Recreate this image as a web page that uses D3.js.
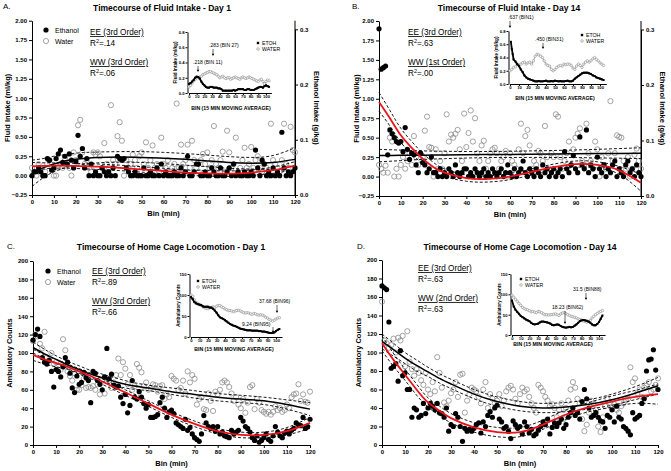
<!DOCTYPE html>
<html>
<head>
<meta charset="utf-8">
<script src="https://cdn.jsdelivr.net/npm/d3@7"></script>
<style>
  body { margin: 0; background: #fff; }
  svg { font-family: "Liberation Sans", Arial, sans-serif; }
</style>
</head>
<body>
<script>
// ---- data ----
const bins = d3.range(0, 121);
const fitBins = [0, 5, 10, 15, 20, 25, 30, 40, 50, 60, 70, 80, 90, 100, 110, 120];
const insetBins = d3.range(0, 105, 2);
const insetBinsBEtoh = [1, 2, 3].concat(d3.range(4, 105, 2));

// A - fluid intake day 1 (ml/kg)
const aEthanol = [0,.05,.05,.1,.05,0,0,.22,.2,.07, .1,.22,.28,.33,.17,.25,.15,.28,.2,.1,
  .18,.52,.25,.35,.1,.22,0,.15,0,.05, 0,0,.1,.05,0,.05,0,.1,0,.25, .22,.2,.22,.1,.05,0,0,.05,0,0,
  0,.1,0,0,.05,0,0,.1,0,.15, 0,.05,0,0,0,.05,0,0,.1,0, .05,.25,0,0,.05,.15,.15,0,0,.05,
  0,0,.1,.05,0,0,.1,0,0,.05, .1,0,.15,0,.05,0,0,.05,0,0, .05,0,.33,.1,0,.2,.15,0,.05,0,
  .1,0,.05,0,.56,.1,0,.05,0,.05, .1];
const aWater = [.1,.05,0,.15,.1,0,.05,.15,.2,.1, 0,0,.1,.15,.1,.22,.15,.1,0,.3,
  .2,.65,.72,.3,.15,.2,.1,.05,.3,.27, .3,.25,.1,.42,.15,.1,.91,.2,.15,.51, .69,.45,0,.2,.1,.15,.27,.2,.1,.25,
  .3,.15,.43,.1,.2,.39,.1,.15,.05,.49, .15,.1,.2,.05,.1,.15,.93,.1,.4,.15, .2,.4,.1,.45,.2,.1,.05,.2,.28,.15,
  .3,.1,.2,.64,.15,.1,.2,.31,.05,.58, .3,.1,.15,.49,.05,.1,.2,.36,.1,.15, .37,.1,.2,.25,.1,.05,.15,.1,0,.67,
  .2,.15,.1,.05,.2,.67,.15,.1,.63,.33, .3];
const aEthFit = [.12,.125,.13,.13,.125,.12,.115,.1,.08,.06,.04,.03,.025,.04,.07,.13];
const aEthHi  = [.17,.165,.165,.163,.158,.153,.15,.135,.115,.095,.075,.065,.06,.075,.11,.18];
const aEthLo  = [.07,.085,.095,.097,.092,.087,.08,.065,.045,.025,.005,-.005,-.01,.005,.03,.08];
const aWatFit = [.04,.1,.15,.19,.21,.225,.235,.24,.235,.225,.21,.19,.17,.16,.17,.21];
const aWatHi  = [.2,.22,.25,.27,.29,.3,.305,.31,.31,.3,.285,.265,.245,.235,.26,.36];
const aWatLo  = [-.14,-.03,.05,.1,.13,.15,.165,.175,.17,.155,.135,.115,.095,.085,.08,.06];
const aInsetEtoh = [.12,.13,.15,.17,.2,.215,.21,.19,.15,.12, .1,.08,.07,.07,.08,.08,.07,.07,.07,.06,
  .06,.05,.03,.03,.03,.03,.03,.03,.03,.04, .03,.04,.05,.05,.05,.05,.04,.04,.05,.05,
  .04,.04,.04,.05,.06,.07,.08,.08,.07,.09, .1,.09,.08];
const aInsetWater = [.08,.1,.13,.16,.18,.2,.2,.21,.22,.24, .25,.26,.27,.28,.28,.27,.26,.25,.24,.22,
  .2,.21,.22,.2,.19,.2,.2,.18,.19,.2, .21,.2,.19,.18,.2,.21,.2,.19,.2,.21,
  .2,.19,.18,.17,.16,.15,.17,.18,.15,.12, .15,.17,.16];

// B - fluid intake day 14 (ml/kg)
const bEthanol = [1.9,1.38,1.4,1.42,.28,.6,.55,.5,.45,.43, .45,.32,.63,.35,.22,.3,.28,.15,.05,.3,
  .18,.15,.05,.1,.25,.05,.05,0,.1,0, .05,0,.1,.05,0,.15,.05,0,.05,.1, .1,0,.05,0,.1,.05,0,.05,.1,0,
  .05,0,.1,.05,0,.05,.1,0,.05,.15, .05,0,.1,0,.05,.1,.2,.05,0,.1, .05,0,.1,.05,0,.15,.05,.1,0,.05,
  .1,0,.05,.1,0,.32,.1,.05,.15,.27, .1,.05,.51,.15,.1,.6,.05,.15,.1,0, .25,.1,.05,.15,0,.1,.05,.15,.2,0,
  .1,.05,0,.15,.2,.05,.1,0,.15,.05, 0];
const bWater = [.15,.1,.05,.14,.05,.5,.45,0,.1,0, .15,.25,.1,.2,.3,.15,.52,.25,.15,.3,
  .25,.59,.77,.38,.37,0,.35,.1,.2,.1, .3,.8,.45,.54,.5,.55,.6,.35,.2,.81, .38,.56,.85,.45,.75,.3,.2,.4,.46,.1,
  .2,.3,.35,.37,.3,.1,.2,.25,.33,0, .3,.2,.15,.1,.35,.68,.3,.52,.6,.4, .1,.2,.15,.33,.3,.2,.65,.25,.1,.3,
  .25,.8,.77,.25,.1,.2,.3,.45,.15,.35, .5,.55,.62,.2,.15,.68,.3,.2,.1,.45, .35,0,.25,.15,.1,.3,.97,.2,.3,.53,
  .51,.5,.2,.1,.25,0,.1,.28,.36,.2, .1];
const bEthFit = [.96,.75,.53,.37,.23,.12,.05,-.02,-.03,0,.06,.12,.16,.15,.08,-.08];
const bEthHi  = [1.08,.85,.62,.45,.3,.18,.1,.02,.01,.04,.1,.16,.2,.19,.13,.03];
const bEthLo  = [.84,.65,.44,.29,.16,.06,0,-.06,-.07,-.04,.02,.08,.12,.11,.03,-.19];
const bWatFit = [.27,.271,.273,.274,.275,.276,.278,.28,.283,.285,.288,.29,.293,.295,.298,.3];
const bWatHi  = [.35,.345,.34,.335,.33,.327,.325,.322,.322,.325,.33,.335,.342,.35,.36,.37];
const bWatLo  = [.19,.197,.205,.213,.22,.225,.23,.238,.244,.245,.246,.245,.244,.24,.236,.23];
const bInsetEtoh = [.637,.53,.45, .37,.34,.3,.27,.22,.18,.13,.1,.08,.07,.06,.05,.04,
  .04,.045,.04,.04,.045,.05,.04,.04,.045,.04,.05,.045,.04,.045,.04,.04,.045,.05,.04,.04,
  .05,.08,.1,.12,.14,.16,.17,.17,.17,.16,.15,.13,.12,.1,.09,.08,.07,.06];
const bInsetWater = [.2,.22,.25,.26,.3,.28,.3,.32,.33,.3, .32,.33,.3,.35,.42,.45,.44,.42,.4,.35,
  .3,.28,.27,.22,.2,.22,.25,.27,.28,.27, .3,.29,.3,.3,.28,.24,.22,.27,.3,.28,
  .25,.3,.33,.35,.33,.35,.38,.4,.37,.35, .32,.3,.28];

// C - locomotion day 1 (counts)
const cEthanol = [114,120,126,118,95,90,88,92,80,63, 82,80,74,85,95,90,78,62,57,75,
  66,68,79,73,70,46,80,78,70,66, 60,74,105,72,77,65,63,64,52,45, 55,35,43,70,52,50,58,52,45,40,
  44,30,30,31,33,46,52,40,30,36, 38,34,24,22,20,18,28,16,19,12, 8,6,4,12,32,24,20,18,20,15,
  20,12,14,10,9,8,16,12,14,16, 30,26,20,18,14,8,5,10,3,5, 8,12,6,4,10,20,14,10,8,13,
  15,12,16,18,24,22,21,30,18,20, 28];
const cWater = [113,120,118,110,105,123,95,92,100,88, 90,85,82,115,103,80,75,70,78,60,
  60,65,72,62,63,62,64,60,66,55, 70,56,72,70,62,68,76,94,76,90, 83,66,76,60,64,88,84,79,64,68,
  60,62,66,65,58,64,65,50,55,52, 75,72,70,60,62,70,56,80,68,76, 72,44,50,52,39,38,56,48,37,58,
  55,60,68,70,68,63,56,48,52,44, 40,50,35,46,63,65,39,50,46,38, 36,34,36,33,36,42,38,40,36,38,
  44,40,52,55,56,66,48,55,47,46, 58];
const cEthFit = [98,93,89,85,80,75,69,57,45,33,23,15,11,11,15,24];
const cEthHi  = [104,98,93,88,83,78,72,60,48,36,26,18,14,14,19,30];
const cEthLo  = [92,88,85,82,77,72,66,54,42,30,20,12,8,8,11,18];
const cWatFit = [106,99,93,87,82,77,73,66,62,58,55,52,50,48,44,39];
const cWatHi  = [112,104,97,91,86,81,77,70,65,62,59,56,54,52,49,46];
const cWatLo  = [100,94,89,83,78,73,69,62,59,55,51,48,46,44,39,32];
const cInsetEtoh = [95,90,83,80,78,77,76,73,72,72, 72,70,70,67,63,58,52,47,45,43,
  40,37,34,31,29,27,26,24,22,20, 19,18,17,16,16,16,15,15,15,15, 14,14,13,13,12,11,10,9.5,9.3,11, 14,17,19];
const cInsetWater = [100,97,88,82,80,77,75,72,70,68, 67,70,70,72,70,73,75,75,72,70,
  67,65,63,63,62,60,62,63,64,62, 60,58,57,58,57,55,54,56,55,53, 52,53,52,50,47,45,42,40,37.7,40, 43,45,46];

// D - locomotion day 14 (counts)
const dEthanol = [172,170,168,133,83,85,88,69,102,75, 78,60,60,30,40,38,30,32,45,34,
  40,45,42,38,45,35,34,30,40,15, 22,20,34,30,20,4,18,15,17,15, 18,22,24,13,25,20,32,36,30,40,
  43,28,25,18,20,15,7,26,22,18, 20,12,25,20,13,17,10,12,16,20, 25,22,28,12,19,24,20,24,28,18,
  22,30,35,40,32,35,28,47,60,50, 40,30,32,35,30,26,25,18,32,30, 38,25,42,30,28,20,18,15,11,35,
  28,30,32,45,50,80,92,93,103,81, 60];
const dWater = [155,113,110,105,108,115,100,116,113,118, 85,123,90,82,75,82,78,70,65,78,
  60,55,68,58,95,78,62,46,42,48, 56,60,68,52,76,77,35,48,55,62, 60,58,52,45,60,68,40,55,50,45,
  48,55,42,48,58,62,64,60,50,45, 55,62,58,60,52,45,40,35,65,62, 58,52,48,42,44,40,30,38,45,28,
  40,48,60,68,62,50,45,28,15,22, 35,48,45,38,20,14,30,42,50,46, 40,44,38,35,42,45,48,50,84,68,
  72,56,60,52,62,64,68,58,60,65, 72];
const dEthFit = [110,92,76,60,46,37,29,19,14,14,22,33,41,47,52,55];
const dEthHi  = [118,99,82,66,51,42,34,24,19,19,27,38,46,53,59,66];
const dEthLo  = [102,85,70,54,41,32,24,14,9,9,17,28,36,41,45,44];
const dWatFit = [112,103,94,86,79,72,66,55,47,42,40,41,44,49,56,64];
const dWatHi  = [120,110,100,92,84,77,71,60,52,47,45,46,49,55,63,73];
const dWatLo  = [104,96,88,80,74,67,61,50,42,37,35,36,39,43,49,55];
const dInsetEtoh = [85,70,62,57,52,47,44,41,38,36, 34,30,27,26,27,28,31,33,33,32,
  31,30,28,25,24,25,26,25,22,20, 19,18.2,19,20,19,20,23,26,30,34, 36,37,36,35,33,30,26,24,24,27, 32,40,48];
const dInsetWater = [98,93,88,83,78,73,68,65,63,62, 60,57,58,56,55,58,57,55,52,50,
  50,49,50,50,51,52,50,48,52,54, 55,53,50,48,46,45,43,42,40,38, 37,35,33,31.5,33,36,42,46,50,53, 56,58,60];

// ---- drawing ----
const FONT = '"Liberation Sans", Arial, sans-serif';
const svg = d3.select("body").append("svg").attr("width", 671).attr("height", 471);

function styleAxis(sel, fs) {
  sel.attr("font-family", FONT);
  sel.selectAll("text").attr("font-size", fs).attr("font-weight", "bold").attr("fill", "#000");
  sel.selectAll("path,line").attr("stroke", "#000");
}

function pairs(xs, ys) { return ys.map((v, i) => [xs[i], v]); }

function txt(g, x, y, s, size, opts = {}) {
  const t = g.append("text").attr("x", x).attr("y", y).attr("font-size", size)
    .attr("font-weight", opts.bold ? "bold" : "normal")
    .attr("text-anchor", opts.anchor || "start").attr("fill", opts.fill || "#000").text(s);
  if (opts.rotate) t.attr("transform", `rotate(${opts.rotate},${x},${y})`);
  if (opts.underline) t.style("text-decoration", "underline");
  return t;
}

function rsq(g, x, y, val) {
  const t = g.append("text").attr("x", x).attr("y", y).attr("font-size", 8.2);
  t.append("tspan").text("R");
  t.append("tspan").attr("font-size", 5.5).attr("dy", -3.2).text("2");
  t.append("tspan").attr("dy", 3.2).text("=" + val);
}

function drawPanel(p) {
  const g = svg.append("g");
  const x = d3.scaleLinear().domain([0, 120]).range(p.xr);
  const y = d3.scaleLinear().domain(p.yDom).range(p.yr);

  g.append("g").attr("transform", `translate(0,${p.yr[0]})`)
    .call(d3.axisBottom(x).tickValues(d3.range(0, 121, 10)).tickSize(3).tickSizeOuter(0).tickPadding(2))
    .call(styleAxis, 6);
  g.append("g").attr("transform", `translate(${p.xr[0]},0)`)
    .call(d3.axisLeft(y).tickValues(p.yTicks).tickFormat(d3.format(p.yFmt)).tickSize(3).tickSizeOuter(0).tickPadding(2))
    .call(styleAxis, 6);

  if (p.r03 !== undefined) {
    const y2 = d3.scaleLinear().domain([0, 0.3]).range([p.yr[0], p.r03]);
    g.append("line").attr("x1", p.xr[1]).attr("x2", p.xr[1]).attr("y1", p.yr[0]).attr("y2", p.yr[1]).attr("stroke", "#000");
    g.append("g").attr("transform", `translate(${p.xr[1]},0)`)
      .call(d3.axisRight(y2).tickValues([0, .1, .2, .3]).tickFormat(d3.format(".1f")).tickSize(3).tickSizeOuter(0).tickPadding(2))
      .call(styleAxis, 6);
    txt(g, p.rLabX, (p.yr[0] + p.yr[1]) / 2, "Ethanol Intake (g/kg)", 7.5, { bold: true, anchor: "middle", rotate: 90 });
  }

  // points
  g.append("g").selectAll("circle").data(pairs(bins, p.wat)).join("circle")
    .attr("cx", d => x(d[0])).attr("cy", d => y(d[1])).attr("r", 2.6)
    .attr("fill", "none").attr("stroke", "#8c8c8c").attr("stroke-width", 0.8);
  g.append("g").selectAll("circle").data(pairs(bins, p.eth)).join("circle")
    .attr("cx", d => x(d[0])).attr("cy", d => y(d[1])).attr("r", 2.6).attr("fill", "#000");

  // fits
  const line = d3.line().x(d => x(d[0])).y(d => y(d[1])).curve(d3.curveNatural);
  [p.wHi, p.wLo, p.eHi, p.eLo].forEach(arr => {
    g.append("path").attr("d", line(pairs(fitBins, arr))).attr("fill", "none")
      .attr("stroke", "#000").attr("stroke-width", 0.9).attr("stroke-dasharray", "3,2");
  });
  g.append("path").attr("d", line(pairs(fitBins, p.wFit))).attr("fill", "none")
    .attr("stroke", "#000").attr("stroke-width", 1.5);
  g.append("path").attr("d", line(pairs(fitBins, p.eFit))).attr("fill", "none")
    .attr("stroke", "#e8141b").attr("stroke-width", 1.8);

  // labels
  txt(g, p.letter[1], p.letter[2], p.letter[0], 8);
  txt(g, p.title[1], p.title[2], p.title[0], 8.5, { bold: true, anchor: "middle" });
  txt(g, (p.xr[0] + p.xr[1]) / 2, p.yr[0] + 21, "Bin (min)", 7.5, { bold: true, anchor: "middle" });
  txt(g, p.yLab[1], (p.yr[0] + p.yr[1]) / 2, p.yLab[0], 7.5, { bold: true, anchor: "middle", rotate: -90 });

  if (p.legend) {
    const [lx, ly] = p.legend;
    g.append("circle").attr("cx", lx).attr("cy", ly).attr("r", 2.6).attr("fill", "#000");
    g.append("circle").attr("cx", lx).attr("cy", ly + 11).attr("r", 2.6).attr("fill", "none")
      .attr("stroke", "#8c8c8c").attr("stroke-width", 0.8);
    txt(g, lx + 9, ly + 2.5, "Ethanol", 7);
    txt(g, lx + 9, ly + 13.5, "Water", 7);
  }
  const [ax, ay] = p.ann;
  txt(g, ax, ay, p.eeText, 8.2, { underline: true });
  rsq(g, ax, ay + 11, p.eeR);
  txt(g, ax, ay + 30, p.wwText, 8.2, { underline: true });
  rsq(g, ax, ay + 41, p.wwR);
}

function arrow(g, x, y1, y2) {
  g.append("line").attr("x1", x).attr("x2", x).attr("y1", y1).attr("y2", y2 - 1.5).attr("stroke", "#000").attr("stroke-width", 0.6);
  g.append("path").attr("d", `M${x - 1.3},${y2 - 2.2}L${x + 1.3},${y2 - 2.2}L${x},${y2}Z`).attr("fill", "#000");
}

function drawInset(q) {
  const g = svg.append("g");
  const k = (q.x100 - q.x0) / 100;
  const x = d3.scaleLinear().domain([0, 107]).range([q.x0, q.x0 + 107 * k]);
  const y = d3.scaleLinear().domain(q.yDom).range(q.yr);
  g.append("g").attr("transform", `translate(0,${q.yr[0]})`)
    .call(d3.axisBottom(x).tickValues(d3.range(0, 101, 10)).tickSize(2).tickSizeOuter(0).tickPadding(0.5))
    .call(styleAxis, 4.2);
  g.append("g").attr("transform", `translate(${q.x0 - 1.5},0)`)
    .call(d3.axisLeft(y).tickValues(q.yTicks).tickFormat(d3.format(q.yFmt)).tickSize(2).tickSizeOuter(0).tickPadding(1))
    .call(styleAxis, 4.2);

  const line = d3.line().x(d => x(d[0])).y(d => y(d[1]));
  const wat = pairs(q.wBins || insetBins, q.water);
  const eth = pairs(q.eBins || insetBins, q.etoh);
  g.append("path").attr("d", line(wat)).attr("fill", "none").attr("stroke", "#999").attr("stroke-width", 1);
  g.append("g").selectAll("circle").data(wat).join("circle")
    .attr("cx", d => x(d[0])).attr("cy", d => y(d[1])).attr("r", 1.2)
    .attr("fill", "#fff").attr("stroke", "#888").attr("stroke-width", 0.6);
  g.append("path").attr("d", line(eth)).attr("fill", "none").attr("stroke", "#000").attr("stroke-width", 1.8);
  g.append("g").selectAll("rect").data(eth).join("rect")
    .attr("x", d => x(d[0]) - 1).attr("y", d => y(d[1]) - 1).attr("width", 2).attr("height", 2).attr("fill", "#000");

  txt(g, q.xLab[0], q.xLab[1], "BIN (15 MIN MOVING AVERAGE)", 5.2, { bold: true, anchor: "middle" });
  txt(g, q.yLab[1], (q.yr[0] + q.yr[1]) / 2, q.yLab[0], 4.6, { bold: true, anchor: "middle", rotate: -90 });

  const [lx, ly] = q.legend;
  g.append("rect").attr("x", lx - 1.2).attr("y", ly - 1.2).attr("width", 2.4).attr("height", 2.4).attr("fill", "#000");
  g.append("circle").attr("cx", lx).attr("cy", ly + 6).attr("r", 1.3).attr("fill", "#fff").attr("stroke", "#888").attr("stroke-width", 0.6);
  txt(g, lx + 4, ly + 1.8, "ETOH", 5.2);
  txt(g, lx + 4, ly + 7.8, "WATER", 5.2);

  q.notes.forEach(n => {
    txt(g, n.tx, n.ty, n.s, 5);
    arrow(g, n.ax, n.a1, n.a2);
  });
}

drawPanel({
  xr: [32, 295], yr: [195, 20.7], yDom: [-0.25, 2.0], yTicks: d3.range(-0.25, 2.01, 0.25), yFmt: ".2f",
  r03: 29.3, rLabX: 314,
  eth: aEthanol, wat: aWater,
  eFit: aEthFit, eHi: aEthHi, eLo: aEthLo, wFit: aWatFit, wHi: aWatHi, wLo: aWatLo,
  letter: ["A.", 3, 9], title: ["Timecourse of Fluid Intake - Day 1", 162, 11],
  yLab: ["Fluid Intake (ml/kg)", 10], legend: [46, 30], ann: [90, 35],
  eeText: "EE (3rd Order)", eeR: ".14", wwText: "WW (3rd Order)", wwR: ".06"
});
drawPanel({
  xr: [379, 641], yr: [196, 21], yDom: [-0.25, 2.0], yTicks: d3.range(-0.25, 2.01, 0.25), yFmt: ".2f",
  r03: 29.5, rLabX: 660,
  eth: bEthanol, wat: bWater,
  eFit: bEthFit, eHi: bEthHi, eLo: bEthLo, wFit: bWatFit, wHi: bWatHi, wLo: bWatLo,
  letter: ["B.", 352, 9], title: ["Timecourse of Fluid Intake - Day 14", 509, 11],
  yLab: ["Fluid Intake (ml/kg)", 359], ann: [408, 35],
  eeText: "EE (3rd Order)", eeR: ".63", wwText: "WW (1st Order)", wwR: ".00"
});
drawPanel({
  xr: [33, 310], yr: [445, 261], yDom: [0, 200], yTicks: d3.range(0, 201, 20), yFmt: "d",
  eth: cEthanol, wat: cWater,
  eFit: cEthFit, eHi: cEthHi, eLo: cEthLo, wFit: cWatFit, wHi: cWatHi, wLo: cWatLo,
  letter: ["C.", 7, 249], title: ["Timecourse of Home Cage Locomotion - Day 1", 171, 250],
  yLab: ["Ambulatory Counts", 12], legend: [48, 271], ann: [92, 274],
  eeText: "EE (3rd Order)", eeR: ".89", wwText: "WW (3rd Order)", wwR: ".66"
});
drawPanel({
  xr: [382, 658], yr: [445, 260], yDom: [0, 200], yTicks: d3.range(0, 201, 20), yFmt: "d",
  eth: dEthanol, wat: dWater,
  eFit: dEthFit, eHi: dEthHi, eLo: dEthLo, wFit: dWatFit, wHi: dWatHi, wLo: dWatLo,
  letter: ["D.", 357, 249], title: ["Timecourse of Home Cage Locomotion - Day 14", 520, 250],
  yLab: ["Ambulatory Counts", 361], ann: [418, 271],
  eeText: "EE (3rd Order)", eeR: ".63", wwText: "WW (2nd Order)", wwR: ".63"
});

drawInset({
  x0: 189, x100: 266, yr: [93, 32], yDom: [0, 0.8], yTicks: [0, .2, .4, .6, .8], yFmt: ".1f",
  etoh: aInsetEtoh, water: aInsetWater,
  xLab: [231, 109.5], yLab: ["Fluid Intake (ml/kg)", 177], legend: [258, 43],
  notes: [{ s: ".283 (BIN 27)", tx: 209, ty: 47, ax: 213, a1: 49, a2: 56 },
          { s: ".218 (BIN 11)", tx: 193, ty: 64, ax: 198, a1: 66, a2: 72 }]
});
drawInset({
  x0: 510, x100: 600, yr: [84, 31], yDom: [0, 0.8], yTicks: [0, .2, .4, .6, .8], yFmt: ".1f",
  etoh: bInsetEtoh, eBins: insetBinsBEtoh, water: bInsetWater,
  xLab: [555, 100], yLab: ["Fluid Intake (ml/kg)", 498], legend: [582, 35],
  notes: [{ s: ".637 (BIN1)", tx: 508, ty: 19, ax: 510, a1: 21, a2: 28 },
          { s: ".450 (BIN31)", tx: 535, ty: 41, ax: 543, a1: 43, a2: 49 }]
});
drawInset({
  x0: 191, x100: 276, yr: [337, 274], yDom: [0, 150], yTicks: [0, 50, 100, 150], yFmt: "d",
  etoh: cInsetEtoh, water: cInsetWater,
  xLab: [234, 351], yLab: ["Ambulatory Counts", 180], legend: [198, 281],
  notes: [{ s: "37.68 (BIN96)", tx: 259, ty: 303, ax: 277, a1: 305, a2: 313 },
          { s: "9.24 (BIN95)", tx: 242, ty: 326, ax: 273, a1: 327, a2: 333 }]
});
drawInset({
  x0: 512, x100: 599, yr: [335, 274], yDom: [0, 150], yTicks: [0, 50, 100, 150], yFmt: "d",
  etoh: dInsetEtoh, water: dInsetWater,
  xLab: [553, 346], yLab: ["Ambulatory Counts", 501], legend: [521, 279],
  notes: [{ s: "31.5 (BIN88)", tx: 573, ty: 291, ax: 586, a1: 293, a2: 300 },
          { s: "18.23 (BIN62)", tx: 552, ty: 309, ax: 565, a1: 311, a2: 324 }]
});
</script>
</body>
</html>
